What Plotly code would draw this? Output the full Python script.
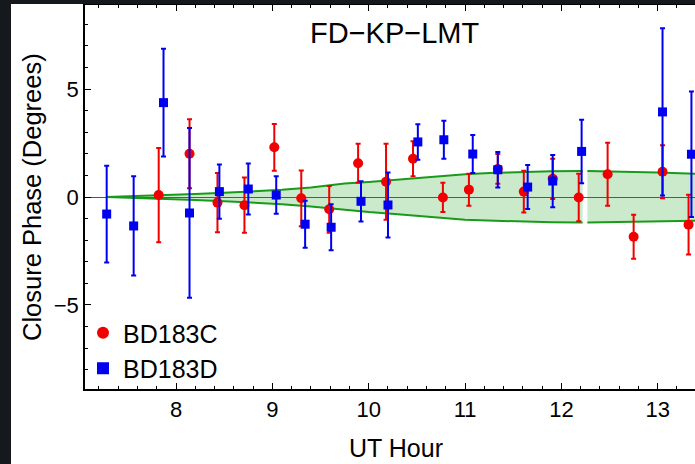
import plotly.graph_objects as go

# ---- data ----
c_hour = [7.82, 8.14, 8.43, 8.71, 9.02, 9.30, 9.59, 9.89, 10.18, 10.46, 10.77, 11.04, 11.34, 11.61, 11.91, 12.18, 12.48, 12.75, 13.05, 13.32]
c_phase = [0.09, 2.0, -0.26, -0.38, 2.3, -0.06, -0.57, 1.56, 0.71, 1.77, -0.02, 0.34, 1.3, 0.25, 0.84, -0.02, 1.05, -1.84, 1.17, -1.28]
c_err = [2.18, 1.6, 1.37, 1.28, 1.08, 1.29, 1.08, 0.9, 1.76, 0.81, 0.68, 0.74, 0.69, 0.97, 0.93, 1.1, 1.46, 1.02, 1.23, 1.38]

d_hour = [7.28, 7.56, 7.87, 8.14, 8.45, 8.75, 9.04, 9.34, 9.61, 9.92, 10.20, 10.51, 10.78, 11.08, 11.34, 11.65, 11.91, 12.21, 13.05, 13.35]
d_phase = [-0.79, -1.34, 4.37, -0.74, 0.25, 0.37, 0.09, -1.26, -1.4, -0.2, -0.37, 2.55, 2.65, 1.99, 1.26, 0.46, 0.74, 2.11, 3.94, 1.98]
d_err = [2.24, 2.3, 2.5, 3.93, 1.26, 1.18, 0.87, 1.09, 1.07, 0.93, 1.5, 0.82, 0.88, 0.88, 0.82, 1.02, 1.21, 1.47, 3.87, 2.91]

band1_hour = [7.28, 7.6, 7.9, 8.2, 8.5, 8.8, 9.1, 9.4, 9.75, 10.0, 10.27, 10.5, 10.79, 11.0, 11.31, 11.6, 11.9, 12.22]
band1_upper = [0.0, 0.04, 0.08, 0.14, 0.2, 0.26, 0.33, 0.44, 0.62, 0.7, 0.79, 0.88, 0.99, 1.05, 1.12, 1.16, 1.19, 1.2]
band1_lower = [0.0, -0.04, -0.08, -0.14, -0.2, -0.26, -0.33, -0.44, -0.6, -0.7, -0.79, -0.88, -0.99, -1.05, -1.1, -1.15, -1.17, -1.18]
band2_hour = [12.27, 12.6, 13.0, 13.4]
band2_upper = [1.2, 1.18, 1.14, 1.08]
band2_lower = [-1.18, -1.16, -1.13, -1.1]

x_ticks = [8, 9, 10, 11, 12, 13]
y_ticks = [-5, 0, 5]

# ---- layout geometry (pixels) ----
W, H = 695, 464
L, R, T, B = 85, 0, 5, 75
PW, PH = W - L - R, H - T - B


def px(x):
    return (x - L) / PW


def py(y):
    return (H - B - y) / PH


FONT = "Liberation Sans, Arial, Helvetica, sans-serif"
GREEN = "#1a9a1a"
FILL = "rgba(20,160,20,0.22)"
RED = "#f00000"
BLUE = "#0000f0"
DARK = "#15181d"

fig = go.Figure()

for bx, bu, bl in [(band1_hour, band1_upper, band1_lower), (band2_hour, band2_upper, band2_lower)]:
    fig.add_trace(go.Scatter(x=bx, y=bl, mode="lines", line=dict(color=GREEN, width=2),
                             showlegend=False, hoverinfo="skip"))
    fig.add_trace(go.Scatter(x=bx, y=bu, mode="lines", line=dict(color=GREEN, width=2),
                             fill="tonexty", fillcolor=FILL, showlegend=False, hoverinfo="skip"))

fig.add_trace(go.Scatter(
    x=c_hour, y=c_phase, mode="markers", name="BD183C", legendgroup="c",
    marker=dict(symbol="circle", size=10, color=RED),
    error_y=dict(type="data", array=c_err, visible=True, color=RED, thickness=2, width=2.5),
))
fig.add_trace(go.Scatter(
    x=d_hour, y=d_phase, mode="markers", name="BD183D", legendgroup="d",
    marker=dict(symbol="square", size=9, color=BLUE),
    error_y=dict(type="data", array=d_err, visible=True, color=BLUE, thickness=2, width=2.5),
))

axis_common = dict(
    showgrid=False, showline=True, linecolor="black", linewidth=1.5,
    ticks="inside", tickcolor="black", tickwidth=1.2, ticklen=6,
    tickfont=dict(family=FONT, size=22, color="black"),
)

fig.update_xaxes(range=[7.055, 13.387], tickvals=x_ticks, mirror="allticks",
                 minor=dict(ticks="inside", ticklen=3, dtick=0.2, tick0=7, tickcolor="black", tickwidth=1),
                 zeroline=False, **axis_common)
fig.update_yaxes(range=[-8.89, 8.89], tickvals=y_ticks, ticktext=["\u22125", "0", "5"], mirror=False,
                 minor=dict(ticks="inside", ticklen=3, dtick=1, tick0=0, tickcolor="black", tickwidth=1),
                 zeroline=True, zerolinecolor="#555555", zerolinewidth=1, **axis_common)

fig.update_layout(
    width=W, height=H,
    margin=dict(l=L, r=R, t=T, b=B, pad=0),
    paper_bgcolor="white",
    plot_bgcolor="white",
    font=dict(family=FONT, color="black"),
    showlegend=True,
    legend=dict(x=px(83), y=py(310), xanchor="left", yanchor="top",
                bgcolor="rgba(0,0,0,0)", font=dict(family=FONT, size=25, color="black"),
                tracegroupgap=0, itemsizing="constant"),
    shapes=[
        dict(type="rect", xref="paper", yref="paper", layer="above",
             x0=px(-5), x1=px(11), y0=py(H + 5), y1=py(-5),
             fillcolor=DARK, line=dict(width=0)),
        dict(type="rect", xref="paper", yref="paper", layer="above",
             x0=px(-5), x1=px(W + 5), y0=py(4), y1=py(-5),
             fillcolor=DARK, line=dict(width=0)),
    ],
    annotations=[
        dict(text="FD\u2212KP\u2212LMT", xref="paper", yref="paper", x=px(395), y=py(33),
             xanchor="center", yanchor="middle", showarrow=False,
             font=dict(family=FONT, size=29, color="black")),
        dict(text="UT Hour", xref="paper", yref="paper", x=px(396), y=py(448),
             xanchor="center", yanchor="middle", showarrow=False,
             font=dict(family=FONT, size=25, color="black")),
        dict(text="Closure Phase (Degrees)", xref="paper", yref="paper", x=px(32), y=py(197),
             xanchor="center", yanchor="middle", showarrow=False, textangle=-90,
             font=dict(family=FONT, size=25.5, color="black")),
    ],
)

fig.write_html("out.html")
